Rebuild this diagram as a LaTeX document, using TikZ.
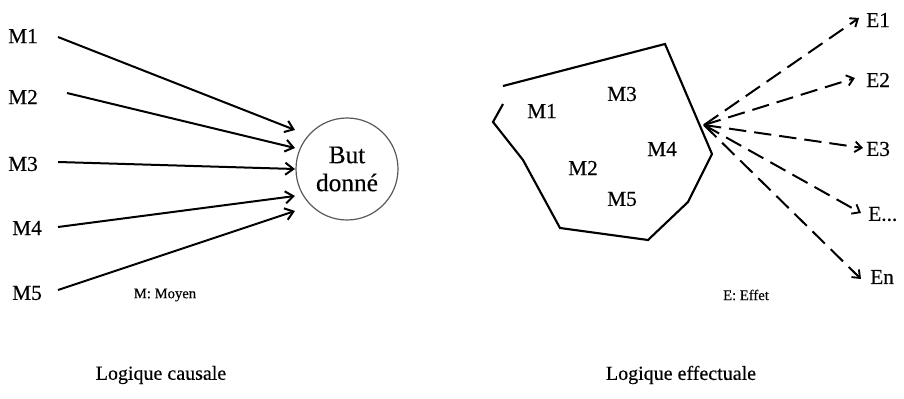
\documentclass[tikz,border=0pt]{standalone}
\usepackage{fontspec}
\setmainfont[FakeBold=0.35]{Liberation Serif}
\usetikzlibrary{arrows.meta}
\begin{document}
\begin{tikzpicture}[x=0.75pt,y=-0.75pt,
  lbl/.style={font=\fontsize{16}{18}\selectfont, inner sep=0pt},
  small/.style={font=\fontsize{11}{13}\selectfont, inner sep=0pt},
  title/.style={font=\fontsize{15}{17}\selectfont, inner sep=0pt},
  arr/.style={line width=1.5pt, -{Straight Barb[length=6pt,width=9pt,line width=1.5pt]}},
  darr/.style={line width=1.5pt, dash pattern=on 13pt off 6pt, -{Straight Barb[length=5pt,width=8pt,line width=1.4pt]}},
  poly/.style={line width=1.6pt, line join=miter}]
\useasboundingbox (0,0) rectangle (904,399);
% left part
\node[lbl] (m1) at (23,36) {M1};
\node[lbl] (m2) at (23,97) {M2};
\node[lbl] (m3) at (23,164) {M3};
\node[lbl] (m4) at (27,228) {M4};
\node[lbl] (m5) at (27,293) {M5};
\node[circle, draw=black!65, line width=0.9pt, minimum size=102*0.75pt, inner sep=0pt,
  align=center, font=\fontsize{19}{21}\selectfont] (but) at (347,169) {But\\donné};
\coordinate (s1) at (58,37);  \coordinate (e1) at (295,130);
\coordinate (s2) at (67,93);  \coordinate (e2) at (295,148);
\coordinate (s3) at (58,162); \coordinate (e3) at (295,169);
\coordinate (s4) at (58,227); \coordinate (e4) at (295,196);
\coordinate (s5) at (58,290); \coordinate (e5) at (295,211);
\foreach \i in {1,...,5} \draw[arr] (s\i) -- (e\i);
\node[small] (moyen) at (165,295) {M: Moyen};
\node[title] (tc) at (161,375) {Logique causale};
% right part
\coordinate (p0) at (503,104);
\coordinate (p1) at (493,122);
\coordinate (p2) at (523,160);
\coordinate (p3) at (560,228);
\coordinate (p4) at (648,240);
\coordinate (p5) at (688,202);
\coordinate (p6) at (712,154);
\coordinate (p7) at (665,44);
\coordinate (p8) at (503,86);
\draw[poly] (p0) -- (p1) -- (p2) -- (p3) -- (p4) -- (p5) -- (p6) -- (p7) -- (p8);
\node[lbl] (n1) at (542,111) {M1};
\node[lbl] (n3) at (622,94) {M3};
\node[lbl] (n4) at (662,149) {M4};
\node[lbl] (n2) at (583,168) {M2};
\node[lbl] (n5) at (622,199) {M5};
\coordinate (src) at (704,125);
\node[lbl, anchor=west] (E1) at (866,20) {E1};
\node[lbl, anchor=west] (E2) at (866,80) {E2};
\node[lbl, anchor=west] (E3) at (866,149) {E3};
\node[lbl, anchor=west] (Ed) at (868,214) {E...};
\node[lbl, anchor=west] (En) at (870,277) {En};
\coordinate (t1) at (859,18);
\coordinate (t2) at (855,78);
\coordinate (t3) at (863,148);
\coordinate (t4) at (861,213);
\coordinate (t5) at (861,279);
\foreach \i in {1,...,5} \draw[darr] (src) -- (t\i);
\node[small] (effet) at (746,295) {E: Effet};
\node[title] (te) at (681,375) {Logique effectuale};
\end{tikzpicture}
\end{document}
